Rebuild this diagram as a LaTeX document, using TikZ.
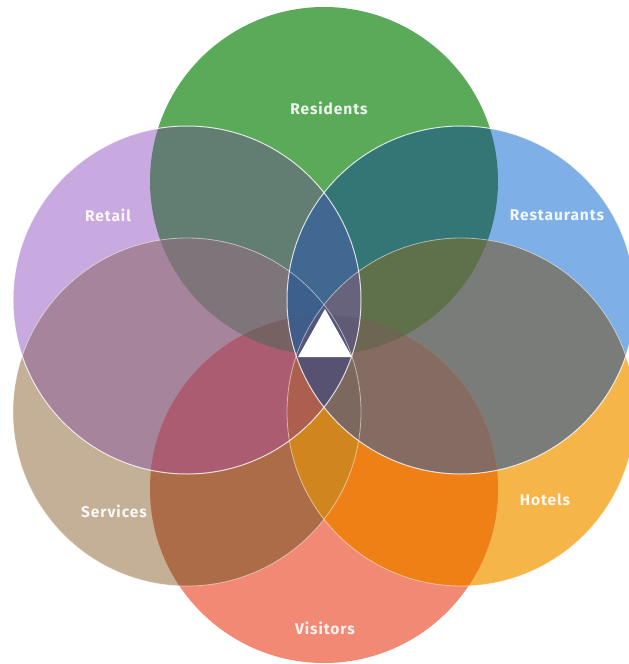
\documentclass[tikz,border=0pt]{standalone}
\usepackage{fontspec}
\setmainfont{Fira Sans}
% single circles
\definecolor{cRes}{RGB}{90,170,90}
\definecolor{cRet}{RGB}{200,170,225}
\definecolor{cRst}{RGB}{126,175,230}
\definecolor{cSer}{RGB}{196,176,150}
\definecolor{cHot}{RGB}{245,181,72}
\definecolor{cVis}{RGB}{241,137,117}
% pairs
\definecolor{pAB}{RGB}{98,125,113}
\definecolor{pAC}{RGB}{52,117,118}
\definecolor{pBD}{RGB}{166,132,155}
\definecolor{pCE}{RGB}{122,124,122}
\definecolor{pDF}{RGB}{172,108,72}
\definecolor{pEF}{RGB}{238,128,22}
\definecolor{pXX}{RGB}{110,105,115}
% triples
\definecolor{tABD}{RGB}{126,117,122}
\definecolor{tACE}{RGB}{95,113,74}
\definecolor{tBDF}{RGB}{172,92,112}
\definecolor{tCEF}{RGB}{133,108,98}
\definecolor{tABC}{RGB}{64,104,144}
\definecolor{tDEF}{RGB}{208,133,30}
% quadruples and more
\definecolor{qABDF}{RGB}{118,98,98}
\definecolor{qACEF}{RGB}{108,102,82}
\definecolor{qABCD}{RGB}{60,95,140}
\definecolor{qABCE}{RGB}{104,99,124}
\definecolor{qBDEF}{RGB}{172,95,78}
\definecolor{qCDEF}{RGB}{124,104,94}
\definecolor{fABCDF}{RGB}{64,92,136}
\definecolor{fABCEF}{RGB}{96,90,116}
\definecolor{fBCDEF}{RGB}{88,82,114}
\definecolor{fABCDE}{RGB}{82,90,126}
\definecolor{sALL}{RGB}{82,86,120}
\newcommand\vR{174}
\def\vclip#1,{\ifx\relax#1\relax\else\clip (#1.center) circle[radius=\vR];\expandafter\vclip\fi}
\newcommand\regfill[2]{\begin{scope}\vclip#2,,\fill[#1] (0,0) rectangle (629,664);\end{scope}}
\begin{document}
\begin{tikzpicture}[x=1pt,y=-1pt,
  venn/.style={circle, minimum size=348pt, inner sep=0pt, outer sep=0pt},
  lbl/.style={text=white, text opacity=0.9, font=\fontsize{15.5}{18}\selectfont\bfseries\addfontfeature{LetterSpace=6}},
  ringA/.style={draw=white, line width=1pt, draw opacity=0.8},
  ringB/.style={draw=white, line width=0.8pt, draw opacity=0.5}]
\useasboundingbox (0,0) rectangle (629,664);
\begin{scope}
  \clip (0,0) rectangle (629,664);
  % single regions
  \node[venn, fill=cRes] (res) at (324,181) {};
  \node[venn, fill=cRet] (ret) at (187,300) {};
  \node[venn, fill=cRst] (rst) at (461,300) {};
  \node[venn, fill=cSer] (ser) at (187,412) {};
  \node[venn, fill=cHot] (hot) at (461,412) {};
  \node[venn, fill=cVis] (vis) at (324,489) {};
  % pairs
  \regfill{pXX}{res,ser}\regfill{pXX}{res,hot}\regfill{pXX}{res,vis}
  \regfill{pXX}{ret,rst}\regfill{pXX}{ret,hot}\regfill{pXX}{ret,vis}
  \regfill{pXX}{rst,ser}\regfill{pXX}{rst,vis}\regfill{pXX}{ser,hot}
  \regfill{pAB}{res,ret}
  \regfill{pAC}{res,rst}
  \regfill{pBD}{ret,ser}
  \regfill{pCE}{rst,hot}
  \regfill{pDF}{ser,vis}
  \regfill{pEF}{hot,vis}
  % triples
  \regfill{tABD}{res,ret,ser}
  \regfill{tACE}{res,rst,hot}
  \regfill{tBDF}{ret,ser,vis}
  \regfill{tCEF}{rst,hot,vis}
  \regfill{tABC}{res,ret,rst}
  \regfill{tDEF}{ser,hot,vis}
  % quadruples
  \regfill{qABDF}{res,ret,ser,vis}
  \regfill{qACEF}{res,rst,hot,vis}
  \regfill{qABCD}{res,ret,rst,ser}
  \regfill{qABCE}{res,ret,rst,hot}
  \regfill{qBDEF}{ret,ser,hot,vis}
  \regfill{qCDEF}{rst,ser,hot,vis}
  % five and six
  \regfill{fABCDF}{res,ret,rst,ser,vis}
  \regfill{fABCEF}{res,ret,rst,hot,vis}
  \regfill{fBCDEF}{ret,rst,ser,hot,vis}
  \regfill{fABCDE}{res,ret,rst,ser,hot}
  \regfill{sALL}{res,ret,rst,ser,hot,vis}
  % outlines
  \draw[ringB] (ser.center) circle[radius=\vR];
  \draw[ringB] (hot.center) circle[radius=\vR];
  \draw[ringA] (ret.center) circle[radius=\vR];
  \draw[ringA] (rst.center) circle[radius=\vR];
\end{scope}
\coordinate (tA) at (325,309);
\coordinate (tB) at (298,357);
\coordinate (tC) at (352,357);
\fill[white] (tA) -- (tB) -- (tC) -- cycle;
\node[lbl] (lres) at (329,108) {Residents};
\node[lbl] (lret) at (108,215) {Retail};
\node[lbl] (lrst) at (557,215) {Restaurants};
\node[lbl] (lser) at (114,511) {Services};
\node[lbl] (lhot) at (545,500) {Hotels};
\node[lbl] (lvis) at (325,628) {Visitors};
\end{tikzpicture}
\end{document}
